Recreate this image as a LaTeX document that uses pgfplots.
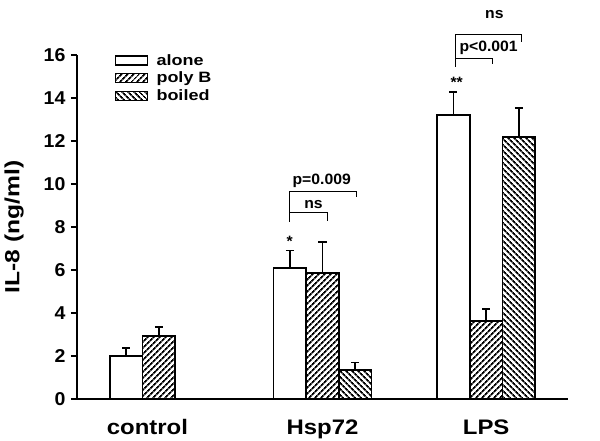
\documentclass[border=0pt]{standalone}
\usepackage{fontspec}
\setmainfont{Liberation Sans}
\usepackage{pgfplots}
\pgfplotsset{compat=1.18}
\usetikzlibrary{patterns.meta}
% size, horizontal stretch
\newcommand\fs[2]{\fontsize{#1}{#1}\selectfont\bfseries\addfontfeatures{FakeStretch=#2}}
\begin{document}
\begin{tikzpicture}
\begin{axis}[
  scale only axis, width=491pt, height=344pt,
  xmin=-0.5, xmax=2.5, ymin=0, ymax=16,
  axis x line=bottom, axis y line=left,
  axis line style={-, line width=1.6pt},
  ytick={0,2,...,16}, xtick={-0.07,1,2}, xticklabels={control,Hsp72,LPS},
  xtick style={draw=none}, ytick style={line width=1.6pt, black},
  tick align=outside, major tick length=6pt,
  /pgf/number format/assume math mode=true,
  yticklabel style={font=\fs{18.6}{1.05}, xshift=-2pt},
  xticklabel style={font=\fs{21}{1.14}, anchor=base, yshift=-29pt},
  ylabel={IL-8 (ng/ml)},
  ylabel style={font=\fs{20.5}{1.2}, at={(axis description cs:-0.128,0.5)}, anchor=center, rotate=0},
  ybar, bar width=0.2, clip=false,
  every axis plot/.append style={bar shift=0pt, draw=black, line width=1.6pt,
    error bars/y dir=plus, error bars/y explicit,
    error bars/error bar style={line width=1.6pt, black},
    error bars/error mark options={line width=1.6pt, black, mark size=4pt, rotate=90}},
  every axis plot/.append style={legend image code/.code={
    \draw[#1,/tikz/.cd,line width=1.3pt] (0pt,-4.5pt) rectangle (32pt,4.5pt);}},
  legend style={at={(axis description cs:0.077,1.006)}, anchor=north west,
    draw=none, fill=none, row sep=3pt, inner sep=0pt,
    nodes={inner sep=1.2pt, font=\fs{15}{1.2}},
    /tikz/every odd column/.append style={column sep=7pt}},
  legend cell align=left,
]
\addplot[fill=white] coordinates {
  (-0.2,2.00) +- (0,0.38)
  (0.8,6.08) +- (0,0.82)
  (1.8,13.20) +- (0,1.08)};
\addplot[pattern={Lines[angle=45, distance=4pt, line width=1.9pt]}] coordinates {
  (0,2.93) +- (0,0.42)
  (1,5.85) +- (0,1.45)
  (2,3.63) +- (0,0.56)};
\addplot[pattern={Lines[angle=-45, distance=4pt, line width=1.9pt]}] coordinates {
  (1.2,1.36) +- (0,0.33)
  (2.2,12.19) +- (0,1.35)};
\legend{alone,poly B,boiled}
% significance brackets
\draw[line width=1.1pt] (axis cs:0.8,8.25) |- (axis cs:1.03,8.68) -- (axis cs:1.03,8.30);
\draw[line width=1.1pt] (axis cs:0.8,8.68) |- (axis cs:1.21,9.67) -- (axis cs:1.21,9.41);
\node[anchor=base, font=\fs{15}{1.05}] at (axis cs:0.945,8.87) {ns};
\node[anchor=base, font=\fs{15}{1.05}] at (axis cs:0.995,10.0) {p=0.009};
\node[anchor=base, font=\fs{15}{1.05}] at (axis cs:0.8,7.08) {*};
\draw[line width=1.1pt] (axis cs:1.81,15.46) |- (axis cs:2.04,15.84) -- (axis cs:2.04,15.60);
\draw[line width=1.1pt] (axis cs:1.81,15.84) |- (axis cs:2.217,16.96) -- (axis cs:2.217,16.62);
\node[anchor=base, font=\fs{15}{1.05}] at (axis cs:2.015,16.16) {p<0.001};
\node[anchor=base, font=\fs{15}{1.05}] at (axis cs:2.05,17.72) {ns};
\node[anchor=base, font=\fs{15}{1.05}] at (axis cs:1.82,14.47) {**};
\coordinate (O) at (rel axis cs:0,0);
\end{axis}
\pgfresetboundingbox
\path ([shift={(-77pt,-41pt)}]O) rectangle ([shift={(523pt,399pt)}]O);
\end{tikzpicture}
\end{document}
